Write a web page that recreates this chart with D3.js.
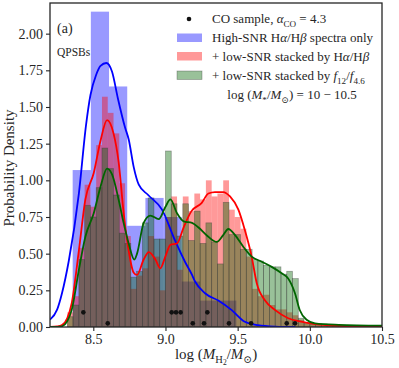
<!DOCTYPE html>
<html>
<head>
<meta charset="utf-8">
<script src="https://cdn.jsdelivr.net/npm/d3@7"></script>
<style>
  body { margin: 0; background: #fff; }
  text { font-family: "Liberation Serif", "DejaVu Serif", serif; fill: #262626; }
</style>
</head>
<body>
<svg id="chart" width="399" height="368"></svg>
<script>
// ---- data ----
let blueStart = 8.357, blueWidth = 0.126 ;
let blueHist = [ 1.07, 2.15, 1.64, 0.69, 0.88, 0.75, 0.31, 0.18, 0.18 ];

let narrowStart = 8.32, narrowWidth = 0.04 ;
let redHist = [ 0.10,0.21,0.54,0.97,0.82,1.24,1.57,1.46,1.32,0.98,0.62,
	0.26,0.35,0.40,0.62,0.48,0.25,0.75,0.89,0.39,0.89,
	0.79,0.91,0.87,1.00,0.89,0.91,1.00,0.80,0.75,0.67,0.48,
	0.26,0.21,0.22,0.15,0.12,0.12,0.10,0.08,0.05,0.03,0.02,
	0.015,0.01,0.01,0.01,0.005,0.005,0.005,0.005,0.005,0.005,0.005,0.005 ];
let greenHist = [ 0.07,0.15,0.46,0.83,0.75,0.95,1.22,1.08,0.90,0.64,0.57,
	0.34,0.38,0.71,0.88,0.60,0.60,1.20,0.84,0.62,0.84,
	0.59,0.79,0.57,0.71,0.58,0.43,0.85,0.63,0.63,0.53,0.53,
	0.46,0.45,0.42,0.41,0.41,0.36,0.38,0.33,0.06,0.03,0.02,
	0.02,0.02,0.015,0.015,0.01,0.01,0.01,0.01,0.01,0.01,0.01,0.01 ];

let blueKde = [ [8.20,0.05],[8.25,0.12],[8.283,0.23],[8.33,0.45],[8.40,0.91],[8.45,1.38],[8.48,1.58],
	[8.52,1.72],[8.55,1.78],[8.59,1.80],[8.63,1.74],[8.67,1.56],[8.72,1.36],[8.745,1.28],[8.78,1.09],
	[8.815,0.97],[8.88,0.90],[8.976,0.80],[9.066,0.59],[9.135,0.445],[9.184,0.355],[9.205,0.31],
	[9.274,0.23],[9.366,0.18],[9.459,0.115],[9.55,0.036],[9.64,0.013],[9.76,0.003],[9.9,0.0] ];
let redKde = [ [8.20,0.0],[8.25,0.004],[8.283,0.013],[8.32,0.06],[8.35,0.16],[8.40,0.52],[8.445,0.87],
	[8.503,1.05],[8.55,1.27],[8.595,1.41],[8.64,1.32],[8.676,1.12],[8.71,0.78],[8.745,0.52],[8.78,0.37],
	[8.803,0.355],[8.849,0.46],[8.884,0.51],[8.93,0.46],[8.964,0.40],[8.999,0.48],[9.034,0.56],[9.08,0.57],
	[9.126,0.68],[9.18,0.79],[9.25,0.845],[9.297,0.91],[9.343,0.92],[9.40,0.92],[9.447,0.89],[9.505,0.80],
	[9.55,0.66],[9.597,0.48],[9.632,0.30],[9.69,0.18],[9.76,0.115],[9.85,0.06],[9.94,0.036],[10.036,0.02],
	[10.2,0.008],[10.5,0.003] ];
let greenKde = [ [8.20,0.0],[8.25,0.001],[8.283,0.005],[8.32,0.04],[8.35,0.115],[8.40,0.39],[8.445,0.615],
	[8.503,0.775],[8.55,0.956],[8.595,1.08],[8.63,1.04],[8.676,0.866],[8.71,0.71],[8.745,0.57],[8.784,0.46],
	[8.803,0.50],[8.849,0.71],[8.895,0.76],[8.953,0.735],[9.0,0.82],[9.034,0.87],[9.08,0.775],[9.126,0.72],
	[9.184,0.71],[9.227,0.68],[9.297,0.615],[9.355,0.58],[9.40,0.627],[9.435,0.668],[9.482,0.627],
	[9.539,0.547],[9.597,0.48],[9.667,0.445],[9.736,0.41],[9.805,0.366],[9.85,0.33],[9.897,0.23],
	[9.93,0.116],[9.98,0.048],[10.036,0.025],[10.2,0.015],[10.5,0.009] ];

let coX = [ 8.431, 8.600, 9.043, 9.073, 9.105, 9.189, 9.267, 9.290, 9.440, 9.593, 9.840, 9.897 ];
let coY = [ 0.10, 0.025, 0.10, 0.10, 0.10, 0.025, 0.025, 0.10, 0.025, 0.025, 0.025, 0.025 ];

let xTicks = [ 8.5, 9.0, 9.5, 10.0, 10.5 ];
let yTicks = [ 0, 0.25, 0.5, 0.75, 1.0, 1.25, 1.5, 1.75, 2.0 ];

// ---- layout ----
let pL = 50, pR = 382, pT = 3, pB = 327 ;
let svg = d3.select("#chart");
let x = d3.scaleLinear().domain([8.2, 10.5]).range([pL, pR]);
let y = d3.scaleLinear().domain([0, 2.209]).range([pB, pT]);

svg.append("clipPath").attr("id", "plotClip")
	.append("rect").attr("x", pL).attr("y", pT).attr("width", pR - pL).attr("height", pB - pT);

let plot = svg.append("g").attr("clip-path", "url(#plotClip)");

let drawHist = (vals, start, w, color, edge)=>{
	plot.append("g").selectAll("rect")
		.data(vals).enter().append("rect")
			.attr("x", (d,i)=>{ return x(start + i*w); })
			.attr("width", (d,i)=>{ return x(start + (i+1)*w) - x(start + i*w); })
			.attr("y", (d)=>{ return y(d); })
			.attr("height", (d)=>{ return y(0) - y(d); })
			.attr("fill", color)
			.attr("fill-opacity", 0.4)
			.attr("stroke", edge ? "#333" : "none")
			.attr("stroke-opacity", 0.45)
			.attr("stroke-width", 0.7)
	;
}
drawHist(blueHist, blueStart, blueWidth, "#0000ff", false);
drawHist(redHist, narrowStart, narrowWidth, "#ff0000", false);
drawHist(greenHist, narrowStart, narrowWidth, "#006400", true);

let line = d3.line().x((d)=>{ return x(d[0]); }).y((d)=>{ return y(d[1]); }).curve(d3.curveMonotoneX);
[ [blueKde, "#0000ff"], [redKde, "#ff0000"], [greenKde, "#006400"] ].forEach((s)=>{
	plot.append("path").attr("d", line(s[0])).attr("fill", "none")
		.attr("stroke", s[1]).attr("stroke-width", 1.8);
});

plot.append("g").selectAll("circle")
	.data(coX).enter().append("circle")
		.attr("cx", (d)=>{ return x(d); })
		.attr("cy", (d,i)=>{ return y(coY[i]); })
		.attr("r", 2.3)
		.attr("fill", "#111")
;

// ---- axes ----
let xAxis = svg.append("g").attr("transform", "translate(0," + pB + ")")
	.call(d3.axisBottom(x).tickValues(xTicks).tickFormat(d3.format(".1f")).tickSize(4).tickPadding(3));
let yAxis = svg.append("g").attr("transform", "translate(" + pL + ",0)")
	.call(d3.axisLeft(y).tickValues(yTicks).tickFormat(d3.format(".2f")).tickSize(4).tickPadding(3));
[xAxis, yAxis].forEach((a)=>{
	a.select(".domain").remove();
	a.selectAll(".tick line").attr("stroke", "#262626").attr("stroke-width", 1.1);
	a.selectAll(".tick text").style("font-size", "14px").style("font-family", null);
});

svg.append("rect").attr("x", pL).attr("y", pT).attr("width", pR - pL).attr("height", pB - pT)
	.attr("fill", "none").attr("stroke", "#262626").attr("stroke-width", 1.3);

// ---- text helpers ----
let rich = (sel, tx, ty, size, parts, anchor)=>{
	let t = sel.append("text").attr("x", tx).attr("y", ty)
		.style("font-size", size + "px").attr("text-anchor", anchor || "start");
	let cur = 0;
	parts.forEach((p)=>{
		let o = (typeof p === "string") ? { t: p } : p;
		let sh = o.sh || 0;
		let ts = t.append("tspan").text(o.t).attr("dy", sh - cur);
		cur = sh;
		if (o.i) ts.style("font-style", "italic");
		if (o.sc) ts.style("font-size", (size * o.sc) + "px");
	});
	return t;
}
let sub = (s, size)=>{ return { t: s, sh: size * 0.28, sc: 0.7 }; }

svg.append("text").attr("x", 57).attr("y", 33).style("font-size", "14px").text("(a)");
svg.append("text").attr("x", 57).attr("y", 56).style("font-size", "11.5px").text("QPSBs");

// legend
let lg = svg.append("g");
let lfs = 13;
lg.append("circle").attr("cx", 189).attr("cy", 19).attr("r", 2.3).attr("fill", "#111");
[ ["#0000ff", 33.5, false], ["#ff0000", 52, false], ["#006400", 71, true] ].forEach((p)=>{
	lg.append("rect").attr("x", 177).attr("y", p[1]).attr("width", 25).attr("height", 8.5)
		.attr("fill", p[0]).attr("fill-opacity", 0.4)
		.attr("stroke", p[2] ? "#333" : "none").attr("stroke-opacity", 0.45).attr("stroke-width", 0.7);
});
rich(lg, 212, 23, lfs, [ "CO sample, ", { t: "α", i: true }, sub("CO", lfs), " = 4.3" ]);
rich(lg, 212, 42, lfs, [ "High-SNR H", { t: "α", i: true }, "/H", { t: "β", i: true }, " spectra only" ]);
rich(lg, 212, 61, lfs, [ "+ low-SNR stacked by H", { t: "α", i: true }, "/H", { t: "β", i: true } ]);
rich(lg, 212, 80, lfs, [ "+ low-SNR stacked by ", { t: "f", i: true }, sub("12", lfs), "/", { t: "f", i: true }, sub("4.6", lfs) ]);
rich(lg, 292, 99, lfs, [ "log (", { t: "M", i: true }, sub("*", lfs), "/", { t: "M", i: true }, sub("⊙", lfs), ") = 10 − 10.5" ], "middle");

// axis labels
let afs = 15;
rich(svg, (pL + pR) / 2, 359, afs, [ "log (", { t: "M", i: true }, sub("H", afs),
	{ t: "2", sh: afs * 0.42, sc: 0.5 }, "/", { t: "M", i: true }, sub("⊙", afs), ")" ], "middle");
svg.append("text")
	.attr("transform", "translate(14," + ((pT + pB) / 2 + 3) + ") rotate(-90)")
	.attr("text-anchor", "middle")
	.style("font-size", afs + "px")
	.text("Probability Density");
</script>
</body>
</html>
